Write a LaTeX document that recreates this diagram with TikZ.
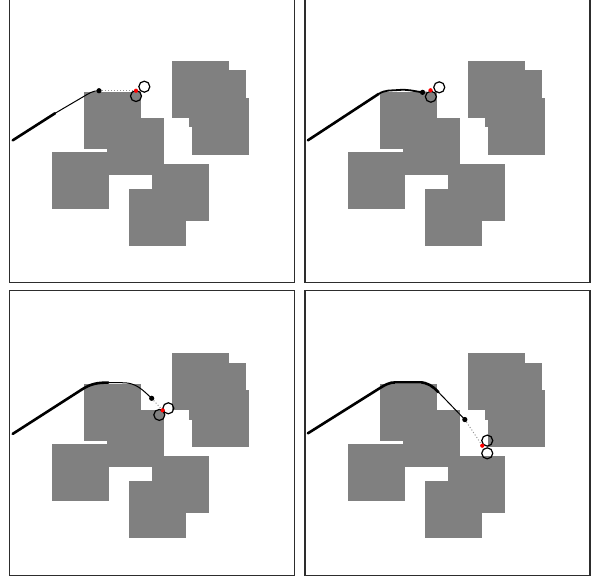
\documentclass[tikz,border=0pt]{standalone}
\usepackage{xcolor}
\usepackage{tikz}
\usetikzlibrary{positioning}
\definecolor{obstgray}{RGB}{128,128,128}
\definecolor{framegray}{RGB}{45,45,45}
\definecolor{linkgray}{RGB}{150,150,150}
\tikzset{
  panel/.style={draw=framegray,line width=0.7pt},
  obst/.style={fill=obstgray},
  done/.style={line width=1.3pt,line cap=round},
  plan/.style={line width=0.5pt},
  link/.style={draw=linkgray,densely dotted,line width=0.5pt},
  wheel/.style={circle,draw,line width=0.6pt,minimum size=5.5pt,inner sep=0pt},
  look/.style={circle,fill=black,minimum size=2.6pt,inner sep=0pt},
  pose/.style={circle,fill=red,minimum size=2pt,inner sep=0pt},
}
\newcommand{\drawobstacles}{%
  \foreach \ox/\oy in {2.853/2.895,3.151/2.732,3.204/2.246,1.309/2.351,
                        1.712/1.895,0.747/1.298,2.502/1.088,2.098/0.649}
    \fill[obst] (\ox,\oy) rectangle ++(1,1);
  \draw[panel] (0,0) rectangle (5,5);}

\begin{document}
\begin{tikzpicture}
  \useasboundingbox (0,0) rectangle (10.368,10.123);

  % top left
  \begin{scope}[shift={(0.165,5.163)}]
    \drawobstacles
    \coordinate (s1) at (0.058,2.498);
    \coordinate (m1) at (0.80,2.972);
    \node[look] (look1) at (1.572,3.368) {};
    \draw[done] (s1) -- (m1);
    \draw[plan] (m1) -- (1.296,3.263) to[out=30,in=180] (look1.center);
    \node[pose] (pose1) at (2.221,3.368) {};
    \draw[link] (look1) -- (pose1);
    \node[wheel] (wa1) at (2.367,3.439) {};
    \node[wheel] (wb1) at (2.221,3.275) {};
    \node[pose] at (pose1) {};
  \end{scope}

  % top right
  \begin{scope}[shift={(5.35,5.163)}]
    \drawobstacles
    \coordinate (s2) at (0.051,2.498);
    \coordinate (m2) at (1.291,3.311);
    \node[look] (look2) at (2.063,3.340) {};
    \draw[done] (s2) -- (m2);
    \draw[plan,line width=0.9pt] (m2) to[out=33,in=185] (1.642,3.381)
      to[out=5,in=172] (look2.center);
    \node[pose] (pose2) at (2.203,3.375) {};
    \draw[link] (look2) -- (pose2);
    \node[wheel] (wa2) at (2.356,3.428) {};
    \node[wheel] (wb2) at (2.209,3.263) {};
    \node[pose] at (pose2) {};
  \end{scope}

  % bottom left
  \begin{scope}[shift={(0.165,0.03)}]
    \drawobstacles
    \coordinate (s3) at (0.058,2.481);
    \coordinate (m3) at (1.735,3.381);
    \node[look] (look3) at (2.496,3.105) {};
    \draw[done] (s3) -- (1.268,3.258) to[out=33,in=180] (m3);
    \draw[plan] (m3) -- (2.0,3.378) to[out=0,in=137] (look3.center);
    \node[pose] (pose3) at (2.689,2.895) {};
    \draw[link] (look3) -- (pose3);
    \node[wheel] (wa3) at (2.788,2.930) {};
    \node[wheel] (wb3) at (2.630,2.814) {};
    \node[pose] at (pose3) {};
  \end{scope}

  % bottom right
  \begin{scope}[shift={(5.35,0.03)}]
    \drawobstacles
    \coordinate (s4) at (0.051,2.491);
    \coordinate (m4) at (2.344,3.211);
    \node[look] (look4) at (2.805,2.732) {};
    \draw[done] (s4) -- (1.291,3.270) to[out=32,in=180] (1.6,3.386)
      -- (2.0,3.386) to[out=0,in=134] (m4);
    \draw[plan] (m4) -- (look4.center);
    \node[pose] (pose4) at (3.111,2.275) {};
    \draw[link] (look4) -- (pose4);
    \node[wheel] (wa4) at (3.198,2.363) {};
    \node[wheel] (wb4) at (3.198,2.140) {};
    \node[pose] at (pose4) {};
  \end{scope}
\end{tikzpicture}
\end{document}
